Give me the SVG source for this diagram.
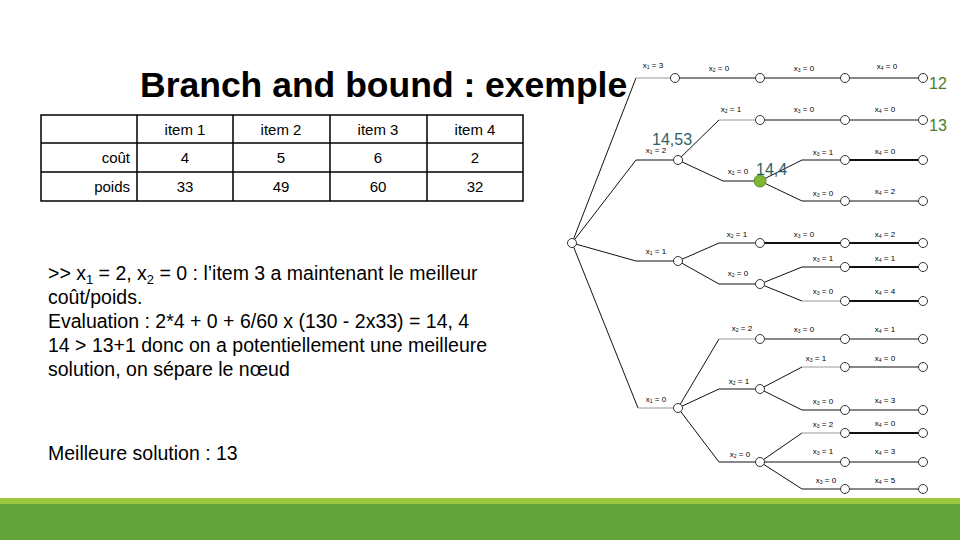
<svg xmlns="http://www.w3.org/2000/svg" width="960" height="540" viewBox="0 0 960 540">
<style>
text{font-family:"Liberation Sans",Arial,sans-serif;fill:#000}
.t{font-size:15px;text-anchor:middle}
.b{font-size:15px;text-anchor:end}
.p{font-size:19.5px}
.l{font-size:8px;text-anchor:middle}
.e path{fill:none;stroke:#111;stroke-width:1}
.e .g{stroke:#bbb;stroke-width:1.6}
.e .k{stroke:#111;stroke-width:2.2}
.n circle{fill:#fff;stroke:#333;stroke-width:1}
.v{font-size:16px;fill:#2f5f6a}
.r{font-size:16px;fill:#4a7a2a}
</style>
<rect width="960" height="540" fill="#fff"/>
<rect y="498" width="960" height="6" fill="#9bc83f"/>
<rect y="504" width="960" height="36" fill="#62a33a"/>
<text x="140" y="97" font-size="35.5" font-weight="bold">Branch and bound : exemple</text>
<g id="table" stroke="#000" stroke-width="1.5" fill="none">
<rect x="41" y="115" width="482" height="86"/>
<path d="M41 143H523M41 172H523M137 115V201M233 115V201M330 115V201M427 115V201"/>
</g>
<g>
<text class="t" x="185" y="135">item 1</text><text class="t" x="281" y="135">item 2</text><text class="t" x="378" y="135">item 3</text><text class="t" x="475" y="135">item 4</text>
<text class="b" x="130" y="163">coût</text><text class="t" x="185" y="163">4</text><text class="t" x="281" y="163">5</text><text class="t" x="378" y="163">6</text><text class="t" x="475" y="163">2</text>
<text class="b" x="130" y="192">poids</text><text class="t" x="185" y="192">33</text><text class="t" x="281" y="192">49</text><text class="t" x="378" y="192">60</text><text class="t" x="475" y="192">32</text>
</g>
<g id="text">
<text class="p" x="48" y="280">&gt;&gt; x<tspan font-size="13" dy="4">1</tspan><tspan dy="-4"> = 2, x</tspan><tspan font-size="13" dy="4">2</tspan><tspan dy="-4"> = 0 : l’item 3 a maintenant le meilleur</tspan></text>
<text class="p" x="48" y="304">coût/poids.</text>
<text class="p" x="48" y="328">Evaluation : 2*4 + 0 + 6/60 x (130 - 2x33) = 14, 4</text>
<text class="p" x="48" y="352">14 &gt; 13+1 donc on a potentiellement une meilleure</text>
<text class="p" x="48" y="376">solution, on sépare le nœud</text>
<text class="p" x="48" y="460">Meilleure solution : 13</text>
</g>
<g id="connectors" class="e">
<path d="M572 243L636 78"/><path class="g" d="M636 78H675"/>
<path d="M675 78H923"/>
<path d="M572 243L636 160"/><path d="M636 160H678"/>
<path d="M572 243L636 261"/><path d="M636 261H678"/>
<path d="M572 243L638 408"/><path class="g" d="M638 408H678"/>
<path d="M678 160L719 120"/><path class="g" d="M719 120H760"/><path d="M760 120H923"/>
<path d="M678 160L723 181H760"/>
<path d="M760 181L802 160H845"/><path class="k" d="M845 160H923"/>
<path d="M760 181L802 201H845"/><path d="M845 201H923"/>
<path d="M678 261L719 243H760"/><path class="k" d="M760 243H923"/>
<path d="M678 261L719 284H760"/>
<path d="M760 284L802 267H845"/><path class="k" d="M845 267H923"/>
<path d="M760 284L802 301"/><path class="g" d="M802 301H845"/><path class="k" d="M845 301H923"/>
<path d="M678 408L719 339"/><path class="g" d="M719 339H760"/><path d="M760 339H923"/>
<path d="M678 408L719 389H760"/>
<path d="M760 389L802 367"/><path class="g" d="M802 367H845"/><path d="M845 367H923"/>
<path d="M760 389L802 410H845"/><path d="M845 410H923"/>
<path d="M678 408L719 462H760"/>
<path d="M760 462L802 433"/><path class="g" d="M802 433H845"/><path class="k" d="M845 433H923"/>
<path d="M760 462H923"/>
<path d="M760 462L802 489H845"/><path d="M845 489H923"/>
</g>
<g id="nodes" class="n">
<circle cx="572" cy="243" r="4.5"/>
<circle cx="675" cy="78" r="4.5"/><circle cx="678" cy="160" r="4.5"/><circle cx="678" cy="261" r="4.5"/><circle cx="678" cy="408" r="4.5"/>
<circle cx="760" cy="78" r="4.5"/><circle cx="760" cy="120" r="4.5"/><circle cx="760" cy="243" r="4.5"/><circle cx="760" cy="284" r="4.5"/><circle cx="760" cy="339" r="4.5"/><circle cx="760" cy="389" r="4.5"/><circle cx="760" cy="462" r="4.5"/>
<circle cx="760" cy="181" r="6" style="fill:#7fb734;stroke:#5a8a2a"/>
<circle cx="845" cy="78" r="4.5"/><circle cx="845" cy="120" r="4.5"/><circle cx="845" cy="160" r="4.5"/><circle cx="845" cy="201" r="4.5"/><circle cx="845" cy="243" r="4.5"/><circle cx="845" cy="267" r="4.5"/><circle cx="845" cy="301" r="4.5"/><circle cx="845" cy="339" r="4.5"/><circle cx="845" cy="367" r="4.5"/><circle cx="845" cy="410" r="4.5"/><circle cx="845" cy="433" r="4.5"/><circle cx="845" cy="462" r="4.5"/><circle cx="845" cy="489" r="4.5"/>
<circle cx="923" cy="78" r="4.5"/><circle cx="923" cy="120" r="4.5"/><circle cx="923" cy="160" r="4.5"/><circle cx="923" cy="201" r="4.5"/><circle cx="923" cy="243" r="4.5"/><circle cx="923" cy="267" r="4.5"/><circle cx="923" cy="301" r="4.5"/><circle cx="923" cy="339" r="4.5"/><circle cx="923" cy="367" r="4.5"/><circle cx="923" cy="410" r="4.5"/><circle cx="923" cy="433" r="4.5"/><circle cx="923" cy="462" r="4.5"/><circle cx="923" cy="489" r="4.5"/>
</g>
<g id="labels">
<text class="l" x="653" y="68">x<tspan font-size="5" dy="1">1</tspan><tspan dy="-1"> = 3</tspan></text>
<text class="l" x="719" y="71">x<tspan font-size="5" dy="1">2</tspan><tspan dy="-1"> = 0</tspan></text>
<text class="l" x="804" y="71">x<tspan font-size="5" dy="1">3</tspan><tspan dy="-1"> = 0</tspan></text>
<text class="l" x="887" y="69">x<tspan font-size="5" dy="1">4</tspan><tspan dy="-1"> = 0</tspan></text>
<text class="l" x="731" y="112">x<tspan font-size="5" dy="1">2</tspan><tspan dy="-1"> = 1</tspan></text>
<text class="l" x="804" y="112">x<tspan font-size="5" dy="1">3</tspan><tspan dy="-1"> = 0</tspan></text>
<text class="l" x="885" y="112">x<tspan font-size="5" dy="1">4</tspan><tspan dy="-1"> = 0</tspan></text>
<text class="l" x="656" y="153">x<tspan font-size="5" dy="1">1</tspan><tspan dy="-1"> = 2</tspan></text>
<text class="l" x="823" y="155">x<tspan font-size="5" dy="1">3</tspan><tspan dy="-1"> = 1</tspan></text>
<text class="l" x="885" y="154">x<tspan font-size="5" dy="1">4</tspan><tspan dy="-1"> = 0</tspan></text>
<text class="l" x="738" y="174">x<tspan font-size="5" dy="1">2</tspan><tspan dy="-1"> = 0</tspan></text>
<text class="l" x="823" y="196">x<tspan font-size="5" dy="1">3</tspan><tspan dy="-1"> = 0</tspan></text>
<text class="l" x="885" y="194">x<tspan font-size="5" dy="1">4</tspan><tspan dy="-1"> = 2</tspan></text>
<text class="l" x="737" y="237">x<tspan font-size="5" dy="1">2</tspan><tspan dy="-1"> = 1</tspan></text>
<text class="l" x="804" y="237">x<tspan font-size="5" dy="1">3</tspan><tspan dy="-1"> = 0</tspan></text>
<text class="l" x="885" y="237">x<tspan font-size="5" dy="1">4</tspan><tspan dy="-1"> = 2</tspan></text>
<text class="l" x="656" y="254">x<tspan font-size="5" dy="1">1</tspan><tspan dy="-1"> = 1</tspan></text>
<text class="l" x="823" y="261">x<tspan font-size="5" dy="1">3</tspan><tspan dy="-1"> = 1</tspan></text>
<text class="l" x="885" y="261">x<tspan font-size="5" dy="1">4</tspan><tspan dy="-1"> = 1</tspan></text>
<text class="l" x="738" y="276">x<tspan font-size="5" dy="1">2</tspan><tspan dy="-1"> = 0</tspan></text>
<text class="l" x="823" y="294">x<tspan font-size="5" dy="1">3</tspan><tspan dy="-1"> = 0</tspan></text>
<text class="l" x="885" y="294">x<tspan font-size="5" dy="1">4</tspan><tspan dy="-1"> = 4</tspan></text>
<text class="l" x="742" y="331">x<tspan font-size="5" dy="1">2</tspan><tspan dy="-1"> = 2</tspan></text>
<text class="l" x="804" y="332">x<tspan font-size="5" dy="1">3</tspan><tspan dy="-1"> = 0</tspan></text>
<text class="l" x="885" y="332">x<tspan font-size="5" dy="1">4</tspan><tspan dy="-1"> = 1</tspan></text>
<text class="l" x="816" y="361">x<tspan font-size="5" dy="1">3</tspan><tspan dy="-1"> = 1</tspan></text>
<text class="l" x="885" y="361">x<tspan font-size="5" dy="1">4</tspan><tspan dy="-1"> = 0</tspan></text>
<text class="l" x="739" y="384">x<tspan font-size="5" dy="1">2</tspan><tspan dy="-1"> = 1</tspan></text>
<text class="l" x="656" y="402">x<tspan font-size="5" dy="1">1</tspan><tspan dy="-1"> = 0</tspan></text>
<text class="l" x="823" y="404">x<tspan font-size="5" dy="1">3</tspan><tspan dy="-1"> = 0</tspan></text>
<text class="l" x="885" y="403">x<tspan font-size="5" dy="1">4</tspan><tspan dy="-1"> = 3</tspan></text>
<text class="l" x="823" y="427">x<tspan font-size="5" dy="1">3</tspan><tspan dy="-1"> = 2</tspan></text>
<text class="l" x="885" y="426">x<tspan font-size="5" dy="1">4</tspan><tspan dy="-1"> = 0</tspan></text>
<text class="l" x="740" y="457">x<tspan font-size="5" dy="1">2</tspan><tspan dy="-1"> = 0</tspan></text>
<text class="l" x="823" y="454">x<tspan font-size="5" dy="1">3</tspan><tspan dy="-1"> = 1</tspan></text>
<text class="l" x="885" y="454">x<tspan font-size="5" dy="1">4</tspan><tspan dy="-1"> = 3</tspan></text>
<text class="l" x="826" y="483">x<tspan font-size="5" dy="1">3</tspan><tspan dy="-1"> = 0</tspan></text>
<text class="l" x="885" y="483">x<tspan font-size="5" dy="1">4</tspan><tspan dy="-1"> = 5</tspan></text>
</g>
<text class="v" x="652" y="145">14,53</text>
<text class="v" x="756" y="175">14,4</text>
<text class="r" x="929" y="89">12</text>
<text class="r" x="929" y="131">13</text>
</svg>
